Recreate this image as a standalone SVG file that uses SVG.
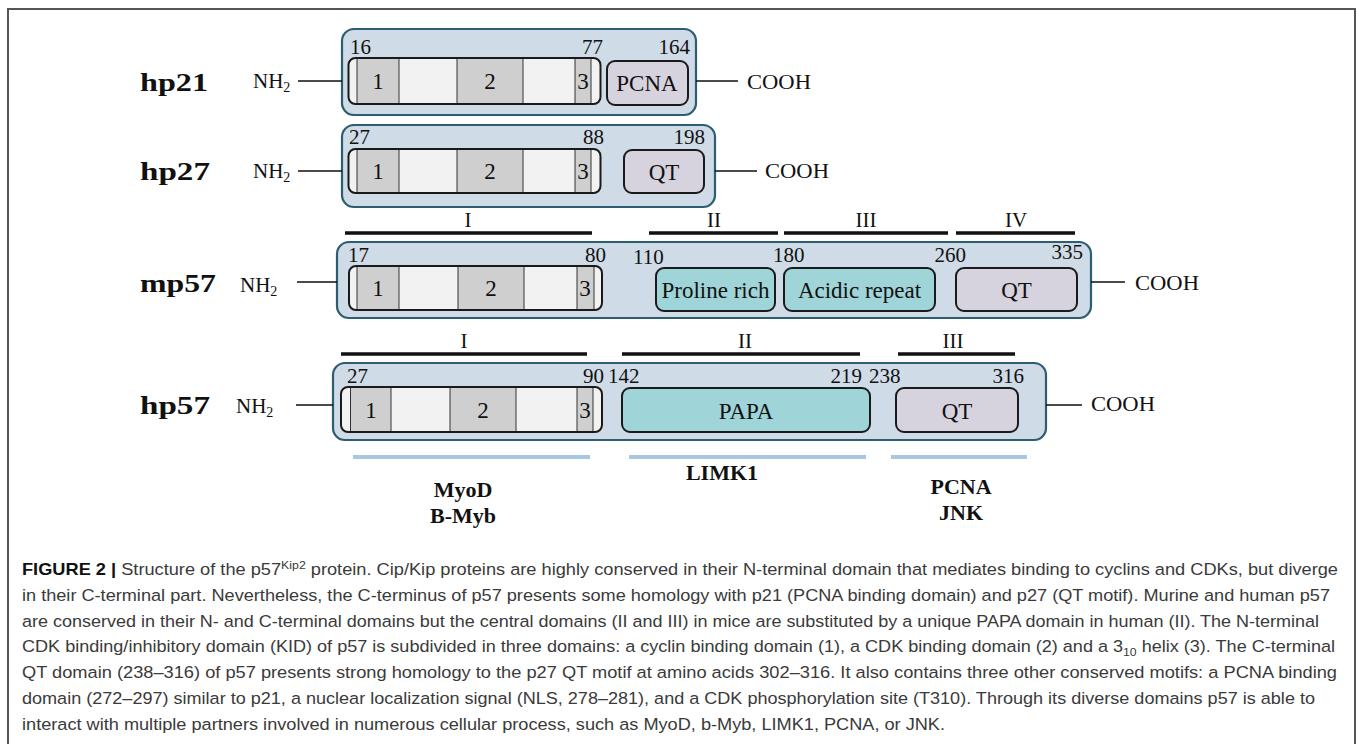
<svg xmlns="http://www.w3.org/2000/svg" width="1357" height="744" viewBox="0 0 1357 744">
<style>
.outer{fill:#cfdbe6;stroke:#2d5d70;stroke-width:2.2}
.kid{fill:#f2f2f2;stroke:none}
.kidb{fill:none;stroke:#1a1a1a;stroke-width:2}
.seg{fill:#cfcfcf}
.sep{stroke:#333;stroke-width:1}
.lav{fill:#d6d3de;stroke:#1a1a1a;stroke-width:2}
.teal{fill:#9fd4d8;stroke:#1a1a1a;stroke-width:2}
.t{font-family:"Liberation Serif","Times New Roman",serif;fill:#111;font-size:21px}
.dt{font-family:"Liberation Serif","Times New Roman",serif;fill:#111;font-size:23px;text-anchor:middle}
.lab{font-family:"Liberation Serif","Times New Roman",serif;fill:#111;font-size:25px;font-weight:bold}
.pt{font-family:"Liberation Serif","Times New Roman",serif;fill:#111;font-size:22px;font-weight:bold;text-anchor:middle}
.rn{font-family:"Liberation Serif","Times New Roman",serif;fill:#111;font-size:21px;text-anchor:middle}
.ln{stroke:#111;stroke-width:1.5}
.bar{stroke:#111;stroke-width:3.5}
.pbar{stroke:#a8c7e3;stroke-width:4}
.cap{font-family:"Liberation Sans",Arial,sans-serif;fill:#3a3a3a;font-size:16.3px}
.e{text-anchor:end}
</style>
<path d="M8,744 V9 H1355 V744" fill="none" stroke="#555" stroke-width="2"/>

<g id="hp21">
<rect class="outer" x="342" y="29" width="354" height="86" rx="12"/>
<rect class="kid" x="348.5" y="58" width="252" height="46" rx="7"/>
<rect class="seg" x="357" y="59" width="42" height="44"/>
<rect class="seg" x="457" y="59" width="66" height="44"/>
<rect class="seg" x="575" y="59" width="16" height="44"/>
<path class="sep" d="M357,59V103M399,59V103M457,59V103M523,59V103M575,59V103M591,59V103"/>
<rect class="kidb" x="348.5" y="58" width="252" height="46" rx="7"/>
<text class="dt" x="378" y="89">1</text><text class="dt" x="490" y="89">2</text><text class="dt" x="583" y="89">3</text>
<rect class="lav" x="607" y="61" width="81" height="44" rx="8"/>
<text class="dt" x="647" y="91">PCNA</text>
<text class="t" x="350" y="54">16</text><text class="t e" x="603" y="54">77</text><text class="t e" x="690" y="54">164</text>
<text class="lab" x="140" y="91" textLength="68" lengthAdjust="spacingAndGlyphs">hp21</text>
<text class="t" x="253" y="88">NH<tspan font-size="14" dy="4">2</tspan></text>
<text class="t" x="747" y="89" textLength="64" lengthAdjust="spacingAndGlyphs">COOH</text>
</g>

<g id="hp27">
<rect class="outer" x="342" y="125" width="373" height="82" rx="12"/>
<rect class="kid" x="348.5" y="149" width="252" height="44" rx="7"/>
<rect class="seg" x="357" y="150" width="42" height="42"/>
<rect class="seg" x="457" y="150" width="66" height="42"/>
<rect class="seg" x="575" y="150" width="16" height="42"/>
<path class="sep" d="M357,150V192M399,150V192M457,150V192M523,150V192M575,150V192M591,150V192"/>
<rect class="kidb" x="348.5" y="149" width="252" height="44" rx="7"/>
<text class="dt" x="378" y="179">1</text><text class="dt" x="490" y="179">2</text><text class="dt" x="583" y="179">3</text>
<rect class="lav" x="624" y="150" width="80" height="43" rx="8"/>
<text class="dt" x="664" y="180">QT</text>
<text class="t" x="349" y="144">27</text><text class="t e" x="604" y="144">88</text><text class="t e" x="705" y="144">198</text>
<text class="lab" x="140" y="180" textLength="70" lengthAdjust="spacingAndGlyphs">hp27</text>
<text class="t" x="253" y="178">NH<tspan font-size="14" dy="4">2</tspan></text>
<text class="t" x="765" y="178" textLength="64" lengthAdjust="spacingAndGlyphs">COOH</text>
</g>

<g id="mp57-regions">
<path class="bar" d="M345,233H592M649,233H778M784,233H948M956,233H1075"/>
<text class="rn" x="468" y="227">I</text><text class="rn" x="714" y="227">II</text><text class="rn" x="866" y="227">III</text><text class="rn" x="1016" y="227">IV</text>
</g>

<g id="mp57">
<rect class="outer" x="337" y="242" width="754" height="76" rx="12"/>
<rect class="kid" x="349" y="266" width="253" height="44" rx="7"/>
<rect class="seg" x="357" y="267" width="42" height="42"/>
<rect class="seg" x="458" y="267" width="66" height="42"/>
<rect class="seg" x="577" y="267" width="17" height="42"/>
<path class="sep" d="M357,267V309M399,267V309M458,267V309M524,267V309M577,267V309M594,267V309"/>
<rect class="kidb" x="349" y="266" width="253" height="44" rx="7"/>
<text class="dt" x="378" y="296">1</text><text class="dt" x="491" y="296">2</text><text class="dt" x="585" y="296">3</text>
<rect class="teal" x="656" y="268" width="119" height="43" rx="8"/>
<text class="dt" x="715.5" y="298">Proline rich</text>
<rect class="teal" x="784" y="268" width="151" height="43" rx="8"/>
<text class="dt" x="859.5" y="298">Acidic repeat</text>
<rect class="lav" x="956" y="268" width="121" height="43" rx="8"/>
<text class="dt" x="1016.5" y="298">QT</text>
<text class="t" x="348" y="262">17</text><text class="t e" x="606" y="262">80</text>
<text class="t" x="633" y="264">110</text><text class="t" x="773" y="262">180</text>
<text class="t e" x="966" y="262">260</text><text class="t e" x="1083" y="259">335</text>
<text class="lab" x="140" y="292" textLength="76" lengthAdjust="spacingAndGlyphs">mp57</text>
<text class="t" x="240" y="292">NH<tspan font-size="14" dy="4">2</tspan></text>
<text class="t" x="1135" y="290" textLength="64" lengthAdjust="spacingAndGlyphs">COOH</text>
</g>

<g id="hp57-regions">
<path class="bar" d="M341,354H587M622,354H860M898,354H1015"/>
<text class="rn" x="464" y="348">I</text><text class="rn" x="745" y="348">II</text><text class="rn" x="953" y="348">III</text>
</g>

<g id="hp57">
<rect class="outer" x="333" y="363" width="713" height="77" rx="12"/>
<rect class="kid" x="341" y="387" width="261" height="45" rx="7"/>
<rect class="seg" x="350.5" y="388" width="40.5" height="43"/>
<rect class="seg" x="450" y="388" width="66" height="43"/>
<rect class="seg" x="577" y="388" width="16" height="43"/>
<path class="sep" d="M350.5,388V431M391,388V431M450,388V431M516,388V431M577,388V431M593,388V431"/>
<rect class="kidb" x="341" y="387" width="261" height="45" rx="7"/>
<text class="dt" x="371" y="418">1</text><text class="dt" x="483" y="418">2</text><text class="dt" x="585" y="418">3</text>
<rect class="teal" x="622" y="388" width="248" height="44" rx="8"/>
<text class="dt" x="746" y="419">PAPA</text>
<rect class="lav" x="896" y="388" width="122" height="44" rx="8"/>
<text class="dt" x="957" y="419">QT</text>
<text class="t" x="347" y="383">27</text><text class="t e" x="604" y="383">90</text>
<text class="t" x="608" y="383">142</text><text class="t e" x="862" y="383">219</text>
<text class="t" x="869" y="383">238</text><text class="t e" x="1024" y="383">316</text>
<text class="lab" x="140" y="414" textLength="70" lengthAdjust="spacingAndGlyphs">hp57</text>
<text class="t" x="236" y="413">NH<tspan font-size="14" dy="4">2</tspan></text>
<text class="t" x="1091" y="411" textLength="64" lengthAdjust="spacingAndGlyphs">COOH</text>
</g>

<g id="connectors">
<path class="ln" d="M298,81H342M696,81H738M298,171H342M715,171H757M297,282H337M1091,282H1125M296,405H333M1046,405H1082"/>
</g>

<g id="partners">
<path class="pbar" d="M353,457H590M629,457H866M891,457H1027"/>
<text class="pt" x="463" y="497">MyoD</text>
<text class="pt" x="463" y="523">B-Myb</text>
<text class="pt" x="722" y="480">LIMK1</text>
<text class="pt" x="961" y="494">PCNA</text>
<text class="pt" x="961" y="520">JNK</text>
</g>

<g id="caption">
<text class="cap" x="22" y="575" textLength="1316" lengthAdjust="spacingAndGlyphs"><tspan font-weight="bold" fill="#111">FIGURE 2 | </tspan>Structure of the p57<tspan font-size="11" dy="-6">Kip2</tspan><tspan dy="6"> protein. Cip/Kip proteins are highly conserved in their N-terminal domain that mediates binding to cyclins and CDKs, but diverge</tspan></text>
<text class="cap" x="22" y="601" textLength="1308" lengthAdjust="spacingAndGlyphs">in their C-terminal part. Nevertheless, the C-terminus of p57 presents some homology with p21 (PCNA binding domain) and p27 (QT motif). Murine and human p57</text>
<text class="cap" x="22" y="627" textLength="1297" lengthAdjust="spacingAndGlyphs">are conserved in their N- and C-terminal domains but the central domains (II and III) in mice are substituted by a unique PAPA domain in human (II). The N-terminal</text>
<text class="cap" x="22" y="652" textLength="1313" lengthAdjust="spacingAndGlyphs">CDK binding/inhibitory domain (KID) of p57 is subdivided in three domains: a cyclin binding domain (1), a CDK binding domain (2) and a 3<tspan font-size="11" dy="4">10</tspan><tspan dy="-4"> helix (3). The C-terminal</tspan></text>
<text class="cap" x="22" y="678" textLength="1315" lengthAdjust="spacingAndGlyphs">QT domain (238–316) of p57 presents strong homology to the p27 QT motif at amino acids 302–316. It also contains three other conserved motifs: a PCNA binding</text>
<text class="cap" x="22" y="704" textLength="1293" lengthAdjust="spacingAndGlyphs">domain (272–297) similar to p21, a nuclear localization signal (NLS, 278–281), and a CDK phosphorylation site (T310). Through its diverse domains p57 is able to</text>
<text class="cap" x="22" y="730" textLength="923" lengthAdjust="spacingAndGlyphs">interact with multiple partners involved in numerous cellular process, such as MyoD, b-Myb, LIMK1, PCNA, or JNK.</text>
</g>
</svg>
